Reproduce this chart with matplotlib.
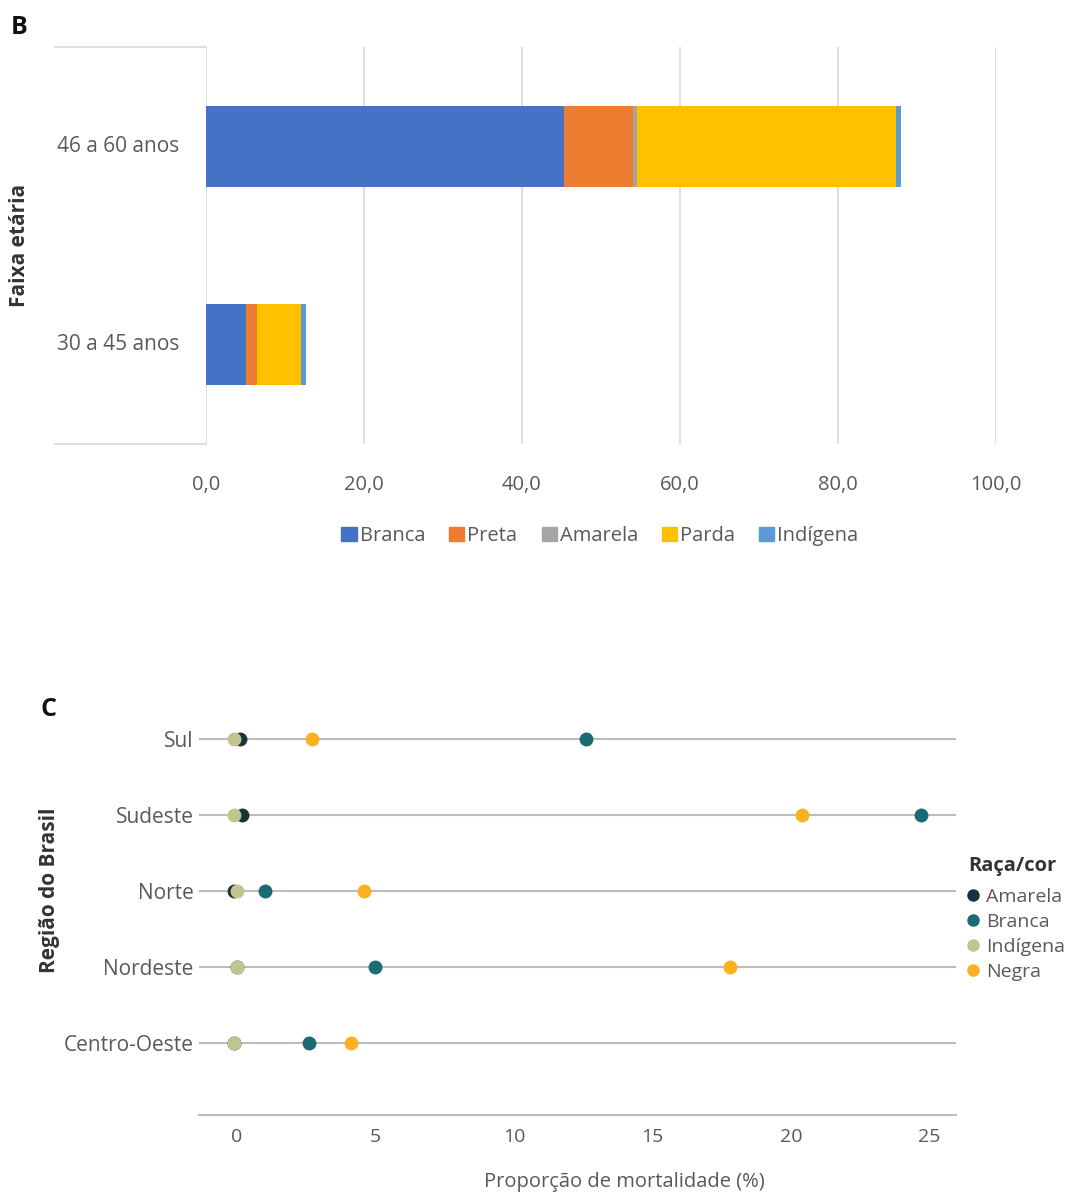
""" Painel B (barras empilhadas) e painel C (pontos por região) """
import numpy as np
import matplotlib.pyplot as plt
from matplotlib.patches import Patch
from matplotlib.lines import Line2D

plt.rcParams['font.family'] = ['Open Sans', 'DejaVu Sans']

# Painel B: faixa etária x raça/cor (%)
age_groups = ["30 a 45 anos", "46 a 60 anos"]
race_b = ["Branca", "Preta", "Amarela", "Parda", "Indígena"]
branca_b = [5.0, 45.3]
preta_b = [1.4, 8.8]
amarela_b = [0.1, 0.5]
parda_b = [5.5, 32.8]
indigena_b = [0.7, 0.6]
xticks_b = [0, 20, 40, 60, 80, 100]

# Painel C: proporção de mortalidade por região (%)
regions = ["Centro-Oeste", "Nordeste", "Norte", "Sudeste", "Sul"]
race_c = ["Amarela", "Branca", "Indígena", "Negra"]
amarela_c = [-0.1, 0.0, -0.1, 0.2, 0.1]
branca_c = [2.6, 5.0, 1.0, 24.7, 12.6]
indigena_c = [-0.1, 0.0, 0.0, -0.1, -0.1]
negra_c = [4.1, 17.8, 4.6, 20.4, 2.7]
xticks_c = [0, 5, 10, 15, 20, 25]

colors_b = ['#4472C4', '#ED7D31', '#A5A5A5', '#FFC000', '#5B9BD5']
colors_c = ['#16343B', '#1B6B74', '#C2C48F', '#FDB120']
txt = '#595959'

W, H = 1073, 1193
fig = plt.figure(figsize=(W/100, H/100), dpi=100)

# ---------------- Painel B ----------------
ax = fig.add_axes([206/W, 1-444/H, (996-206)/W, (444-47)/H])
y = np.arange(len(age_groups))
left = np.zeros(len(age_groups))
for vals, c, lab in zip([branca_b, preta_b, amarela_b, parda_b, indigena_b], colors_b, race_b):
    ax.barh(y, vals, left=left, height=0.41, color=c, label=lab, zorder=3)
    left += np.array(vals)

ax.set_xlim(0, 100)
ax.set_ylim(-0.5, 1.5)
ax.set_xticks(xticks_b)
ax.set_xticklabels([("%.1f" % v).replace('.', ',') for v in xticks_b])
ax.tick_params(axis='x', length=0, pad=22, labelsize=14.5, labelcolor=txt)
ax.set_yticks([])
ax.grid(axis='x', color='#D9D9D9', lw=1.2, zorder=0)
for s in ax.spines.values():
    s.set_visible(False)
# linhas de separação das categorias (estilo Excel)
ext = -(206-55)/(996-206)
for yy in [0, 1]:
    ax.plot([ext, 0], [yy, yy], transform=ax.transAxes, color='#D9D9D9',
            lw=1.2, clip_on=False)
for i, lab in enumerate(age_groups):
    ax.text(ext + 0.003, y[i], lab, transform=ax.get_yaxis_transform(),
            ha='left', va='center', fontsize=15, color=txt)

fig.text(20/W, 1-245/H, "Faixa etária", rotation=90, ha='center', va='center',
         fontsize=15, fontweight='bold', color='#333333')
fig.text(11/W, 1-28/H, "B", ha='left', va='center', fontsize=18,
         fontweight='bold', color='#111111')

handles_b = [Patch(color=c, label=l) for c, l in zip(colors_b, race_b)]
fig.legend(handles=handles_b, loc='center', bbox_to_anchor=(600/W, 1-536/H),
           ncol=5, frameon=False, fontsize=14.5, handlelength=0.75,
           handleheight=0.75, handletextpad=0.15, columnspacing=1.2,
           labelcolor=txt)

# ---------------- Painel C ----------------
ax2 = fig.add_axes([199/W, 1-1115/H, (956-199)/W, (1115-700)/H])
yc = np.arange(len(regions))
for yy in yc:
    ax2.axhline(yy, color='#BDBDBD', lw=1.5, zorder=1)
for vals, c, lab in zip([amarela_c, branca_c, indigena_c, negra_c], colors_c, race_c):
    ax2.plot(vals, yc, 'o', ms=10, color=c, label=lab, zorder=3, mew=0)

ax2.set_xlim(-1.37, 25.96)
ax2.set_ylim(-0.947, 4.513)
ax2.set_xticks(xticks_c)
ax2.set_yticks(yc)
ax2.set_yticklabels(regions)
ax2.tick_params(axis='x', length=0, pad=9, labelsize=14, labelcolor=txt)
ax2.tick_params(axis='y', length=0, pad=4, labelsize=15, labelcolor=txt)
for k in ['top', 'right', 'left']:
    ax2.spines[k].set_visible(False)
ax2.spines['bottom'].set_color('#BDBDBD')
ax2.spines['bottom'].set_linewidth(1.5)
ax2.set_xlabel("Proporção de mortalidade (%)", fontsize=14.5, color=txt)
ax2.xaxis.set_label_coords((624-199)/(956-199), -(1172-1115)/(1115-700))

fig.text(50/W, 1-890/H, "Região do Brasil", rotation=90, ha='center', va='center',
         fontsize=15, fontweight='bold', color='#333333')
fig.text(41/W, 1-710/H, "C", ha='left', va='center', fontsize=18,
         fontweight='bold', color='#111111')

# legenda do painel C: título à parte
fig.text(968/W, 1-866/H, "Raça/cor", ha='left', va='center', fontsize=14.5,
         fontweight='bold', color='#333333')
handles_c = [Line2D([], [], marker='o', ls='', ms=9, color=c, mew=0, label=l)
             for c, l in zip(colors_c, race_c)]
fig.legend(handles=handles_c, loc='upper left', bbox_to_anchor=(965/W, 1-888/H),
           frameon=False, fontsize=14, handlelength=0.8, handletextpad=0.3,
           labelspacing=0.36, labelcolor=txt, borderaxespad=0, borderpad=0)

fig.savefig("out.png", dpi=100)
